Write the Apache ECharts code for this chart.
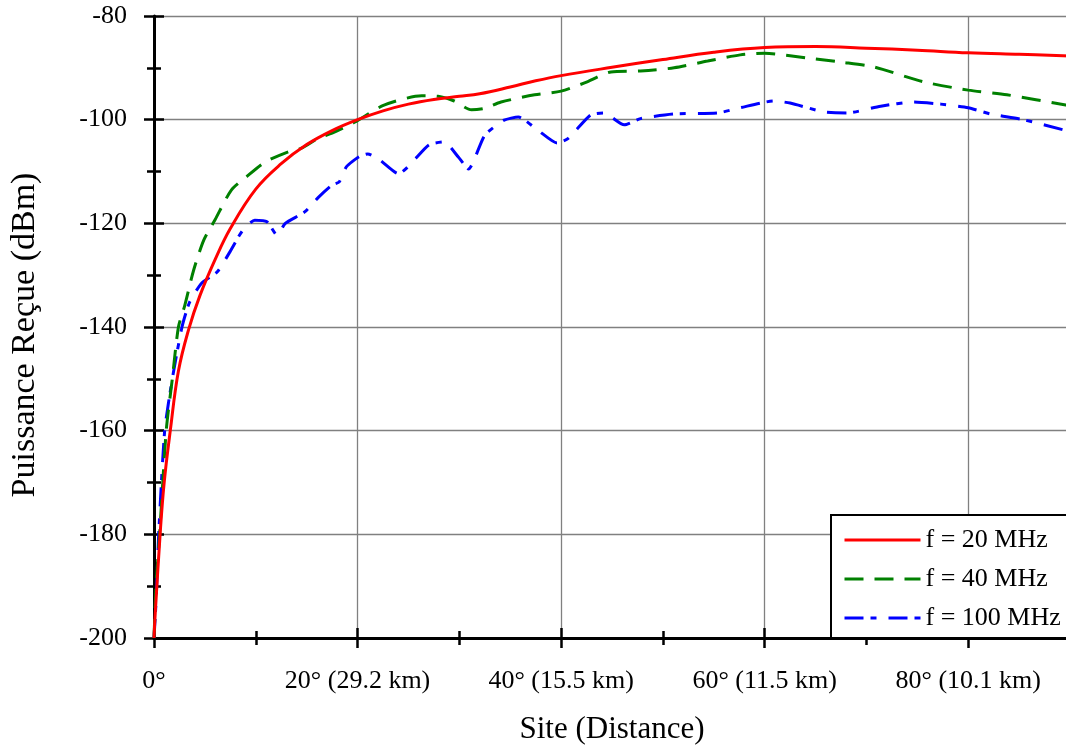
<!DOCTYPE html>
<html>
<head>
<meta charset="utf-8">
<script src="https://cdn.jsdelivr.net/npm/echarts@6/dist/echarts.min.js"></script>
<style>
html,body{margin:0;padding:0;background:#fff;overflow:hidden;width:1066px;height:751px;}
#chart{width:1070px;height:751px;}
</style>
</head>
<body>
<div id="chart"></div>
<script>
// ---- data ----
const seriesNames = ['f = 20 MHz', 'f = 40 MHz', 'f = 100 MHz'];

const xTickValues = [0, 20, 40, 60, 80];
const xTickLabels = ['0°', '20° (29.2 km)', '40° (15.5 km)', '60° (11.5 km)', '80° (10.1 km)'];

const red20X = [0, 0.1, 0.6, 1.0, 1.6, 2.4, 3.4, 4.5, 6, 7.5, 10, 12.5, 15, 17.5, 20, 22.5, 25, 27.5, 30, 32, 35, 37.5, 40, 45, 50, 55, 60, 65, 70, 75, 80, 85, 90];
const red20Y = [-200, -196, -180, -170, -160, -148.5, -140.5, -134, -127, -121, -113.4, -108.5, -104.8, -102.1, -100, -98.3, -97, -96.1, -95.5, -95, -93.7, -92.5, -91.5, -89.9, -88.4, -87, -86.1, -85.9, -86.2, -86.6, -87.1, -87.4, -87.7];

const green40X = [0, 0.2, 0.55, 1.2, 1.8, 2.4, 3, 3.9, 4.9, 6, 7.6, 9.1, 10.9, 13.2, 14.5, 16.2, 17.5, 19.7, 22.6, 26.3, 27.9, 29.5, 31.2, 32.5, 34.1, 37.4, 40, 42.3, 44.9, 47.8, 51.1, 54.4, 57.6, 60, 64.2, 67.5, 70.7, 75.6, 80, 83.8, 90];
const green40Y = [-200, -190, -180, -160, -150, -140, -136, -129, -123.2, -119.3, -113.6, -111, -108.2, -106.2, -105.5, -103.5, -102.6, -100.5, -97.2, -95.4, -95.5, -96.4, -98.1, -97.8, -96.6, -95.2, -94.5, -92.9, -90.8, -90.6, -90, -88.7, -87.5, -87.2, -88.1, -88.9, -89.8, -92.7, -94.3, -95.2, -97.3];

const blue100X = [0, 0.2, 0.46, 1.05, 1.8, 2.75, 3.5, 4.7, 6.2, 7.4, 8.3, 8.9, 9.9, 11.1, 12.1, 12.9, 14.8, 16.2, 17.5, 18.2, 18.9, 20.1, 21, 22.2, 24, 27, 28.5, 29.9, 30.9, 32.5, 34.4, 35.8, 37.7, 39.6, 40.7, 42.9, 44.2, 46.2, 47.8, 51.1, 55.4, 57.6, 60.9, 62.5, 65.8, 68.1, 71.4, 74.6, 77.3, 80, 82.2, 85.4, 90];
const blue100Y = [-200, -193, -180, -160, -150, -140, -135.2, -131.5, -129.4, -125.7, -122.6, -120.9, -119.4, -119.7, -122.3, -120, -117.8, -114.9, -112.6, -112, -109.1, -107.2, -106.6, -107.8, -110.4, -104.9, -104.3, -107.2, -109.5, -103, -100.1, -99.5, -102, -104.5, -103.6, -99.1, -98.7, -101, -99.8, -98.9, -98.7, -97.7, -96.4, -96.8, -98.5, -98.7, -97.4, -96.6, -97, -97.7, -98.9, -100, -102.3];

// ---- chart ----
const FONT = "'Liberation Serif', 'Times New Roman', serif";
const zip = (xs, ys) => xs.map((x, i) => [x, ys[i]]);

const chart = echarts.init(document.getElementById('chart'), null, {renderer: 'canvas'});

const xLabelFmt = v => {
  const i = xTickValues.indexOf(v);
  return i >= 0 ? xTickLabels[i] : '';
};

const option = {
  backgroundColor: '#ffffff',
  animation: false,
  grid: {left: 152, right: 0, top: 16, bottom: 113, containLabel: false},
  legend: {
    data: seriesNames,
    orient: 'vertical',
    left: 831,
    top: 515,
    backgroundColor: '#ffffff',
    borderColor: '#000000',
    borderWidth: 2,
    borderRadius: 0,
    padding: [12, 40, 7, 12],
    itemWidth: 76,
    itemHeight: 14,
    itemGap: 13,
    itemStyle: {opacity: 0},
    lineStyle: {width: 3},
    textStyle: {fontFamily: FONT, fontSize: 26, color: '#000', lineHeight: 26}
  },
  xAxis: [{
    type: 'value', min: 0, max: 90, interval: 20,
    name: 'Site (Distance)', nameLocation: 'middle', nameGap: 76,
    nameTextStyle: {fontFamily: FONT, fontSize: 31, color: '#000'},
    axisLine: {show: true, onZero: false, lineStyle: {color: '#000', width: 3}},
    axisTick: {show: true, inside: false, length: 10, lineStyle: {color: '#000', width: 2.5}},
    minorTick: {show: true, splitNumber: 2, length: 7, lineStyle: {color: '#000', width: 2.5}},
    axisLabel: {show: true, margin: 30, formatter: xLabelFmt, showMaxLabel: false, fontFamily: FONT, fontSize: 26, color: '#000'},
    splitLine: {show: true, lineStyle: {color: '#808080', width: 1.3}}
  }, {
    type: 'value', min: 0, max: 90, interval: 20, position: 'bottom',
    axisLine: {show: false},
    axisTick: {show: true, inside: true, length: 10, lineStyle: {color: '#000', width: 2.5}},
    minorTick: {show: true, splitNumber: 2, length: 7, lineStyle: {color: '#000', width: 2.5}},
    axisLabel: {show: false},
    splitLine: {show: false}
  }],
  yAxis: [{
    type: 'value', min: -200, max: -80, interval: 20,
    name: 'Puissance Reçue (dBm)', nameLocation: 'middle', nameGap: 112,
    nameTextStyle: {fontFamily: FONT, fontSize: 34, color: '#000', padding: [0, 16, 0, 0]},
    axisLine: {show: true, onZero: false, lineStyle: {color: '#000', width: 3}},
    axisTick: {show: true, inside: false, length: 10, lineStyle: {color: '#000', width: 2.5}},
    minorTick: {show: true, splitNumber: 2, length: 7, lineStyle: {color: '#000', width: 2.5}},
    axisLabel: {show: true, margin: 27, fontFamily: FONT, fontSize: 26, color: '#000'},
    splitLine: {show: true, lineStyle: {color: '#808080', width: 1.3}}
  }, {
    type: 'value', min: -200, max: -80, interval: 20, position: 'left',
    axisLine: {show: false},
    axisTick: {show: true, inside: true, length: 10, lineStyle: {color: '#000', width: 2.5}},
    minorTick: {show: true, splitNumber: 2, length: 7, lineStyle: {color: '#000', width: 2.5}},
    axisLabel: {show: false},
    splitLine: {show: false}
  }],
  series: [{
    name: seriesNames[0], type: 'line', xAxisIndex: 0, yAxisIndex: 0,
    data: zip(red20X, red20Y), showSymbol: false, symbol: 'none',
    smooth: 0.4,
    color: '#ff0000',
    lineStyle: {color: '#ff0000', width: 3, type: 'solid'}, z: 5
  }, {
    name: seriesNames[1], type: 'line', xAxisIndex: 0, yAxisIndex: 0,
    data: zip(green40X, green40Y), showSymbol: false, symbol: 'none',
    smooth: 0.25,
    color: '#008000',
    lineStyle: {color: '#008000', width: 3, type: [19, 11], cap: 'butt'}, z: 4
  }, {
    name: seriesNames[2], type: 'line', xAxisIndex: 0, yAxisIndex: 0,
    data: zip(blue100X, blue100Y), showSymbol: false, symbol: 'none',
    smooth: 0.2,
    color: '#0000ff',
    lineStyle: {color: '#0000ff', width: 3, type: [19, 7, 6, 12], cap: 'butt'}, z: 3
  }]
};
chart.setOption(option);
</script>
</body>
</html>
